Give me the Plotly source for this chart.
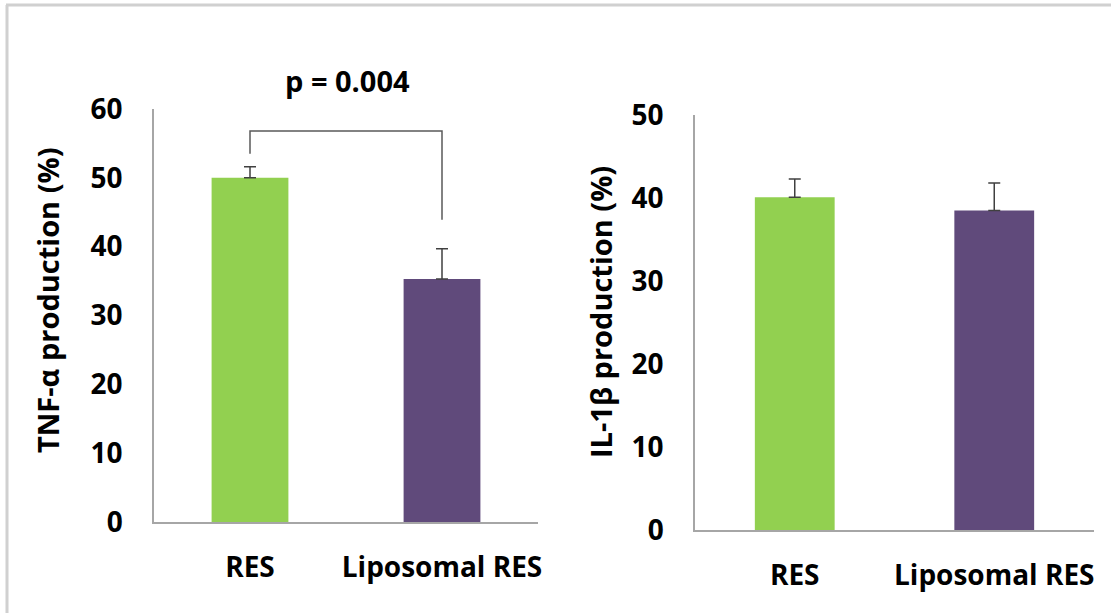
import plotly.graph_objects as go

W, H = 1111, 613

categories = ["RES", "Liposomal RES"]
tnf_values = [50.0, 35.3]
tnf_errors = [1.6, 4.4]
il1b_values = [40.1, 38.5]
il1b_errors = [2.2, 3.3]
tnf_ticks = [0, 10, 20, 30, 40, 50, 60]
il1b_ticks = [0, 10, 20, 30, 40, 50]
bar_colors = ["#92D050", "#604A7B"]
p_label = "p = 0.004"
bracket_left_y = 53.5
bracket_top_y = 56.8
bracket_right_y = 43.9

FONT = "Open Sans"
BLACK = "#000000"


def px_x(p):
    return p / W


def px_y(p):
    return (H - p) / H


fig = go.Figure()

fig.add_trace(go.Bar(
    x=[0, 1], y=tnf_values, width=0.4,
    marker=dict(color=bar_colors, line=dict(width=0)),
    error_y=dict(type="data", array=tnf_errors, symmetric=False, arrayminus=[0, 0],
                 color="#404040", thickness=1.5, width=6),
    xaxis="x", yaxis="y", showlegend=False,
))
fig.add_trace(go.Bar(
    x=[0, 1], y=il1b_values, width=0.4,
    marker=dict(color=bar_colors, line=dict(width=0)),
    error_y=dict(type="data", array=il1b_errors, symmetric=False, arrayminus=[0, 0],
                 color="#404040", thickness=1.5, width=6),
    xaxis="x2", yaxis="y2", showlegend=False,
))

# significance bracket
fig.add_trace(go.Scatter(
    x=[0, 0, 1, 1], y=[bracket_left_y, bracket_top_y, bracket_top_y, bracket_right_y],
    mode="lines", line=dict(color="#595959", width=1.5),
    xaxis="x", yaxis="y", showlegend=False, hoverinfo="skip", cliponaxis=False,
))

xtickfont = dict(family=FONT, size=28, color=BLACK)
ytickfont = dict(family=FONT, size=28, color=BLACK)
axis_line = dict(showline=True, linecolor="#A6A6A6", linewidth=1.5,
                 showgrid=False, zeroline=False, ticks="", fixedrange=True)

fig.update_layout(
    width=W, height=H,
    margin=dict(l=0, r=0, t=0, b=0, pad=0, autoexpand=False),
    paper_bgcolor="white", plot_bgcolor="white",
    showlegend=False,
    font=dict(family=FONT, color=BLACK),
    xaxis=dict(domain=[px_x(154), px_x(538)], range=[-0.5, 1.5], anchor="y",
               tickvals=[0, 1], ticktext=[f"<b>{c}</b>" for c in categories],
               tickfont=xtickfont, ticklabelstandoff=20, tickangle=0, **axis_line),
    yaxis=dict(domain=[px_y(522), px_y(109)], range=[0, 60], anchor="x",
               tickvals=tnf_ticks, ticktext=[f"<b>{t}</b>" for t in tnf_ticks],
               tickfont=ytickfont, ticklabelstandoff=24, **axis_line),
    xaxis2=dict(domain=[px_x(695), px_x(1094)], range=[-0.5, 1.5], anchor="y2",
                tickvals=[0, 1], ticktext=[f"<b>{c}</b>" for c in categories],
                tickfont=xtickfont, ticklabelstandoff=20, tickangle=0, **axis_line),
    yaxis2=dict(domain=[px_y(530), px_y(115)], range=[0, 50], anchor="x2",
                tickvals=il1b_ticks, ticktext=[f"<b>{t}</b>" for t in il1b_ticks],
                tickfont=ytickfont, ticklabelstandoff=24, **axis_line),
)

annotations = [
    dict(text=f"<b>{p_label}</b>", x=px_x(347), y=px_y(80), xref="paper", yref="paper",
         xanchor="center", yanchor="middle", showarrow=False,
         font=dict(family=FONT, size=29, color=BLACK)),
    dict(text="<b>TNF-α production (%)</b>", x=px_x(47), y=px_y(301),
         xref="paper", yref="paper", textangle=-90, showarrow=False,
         xanchor="center", yanchor="middle",
         font=dict(family=FONT, size=29, color=BLACK)),
    dict(text="<b>IL-1β production (%)</b>", x=px_x(600), y=px_y(312),
         xref="paper", yref="paper", textangle=-90, showarrow=False,
         xanchor="center", yanchor="middle",
         font=dict(family=FONT, size=29, color=BLACK)),
]
fig.update_layout(annotations=annotations)

# faint frame on top and left edges
fig.add_shape(type="line", xref="paper", yref="paper",
              x0=px_x(6), x1=1, y0=px_y(5), y1=px_y(5),
              line=dict(color="#D0D0D0", width=3))
fig.add_shape(type="line", xref="paper", yref="paper",
              x0=px_x(7), x1=px_x(7), y0=0, y1=px_y(5),
              line=dict(color="#D0D0D0", width=3))

fig.write_html("out.html")
